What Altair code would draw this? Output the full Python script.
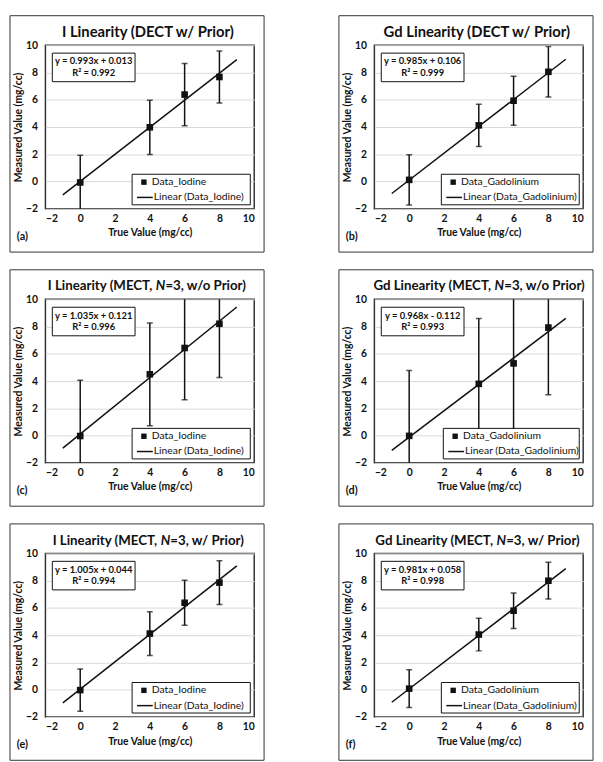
import altair as alt
import pandas as pd

# ---------------- data ----------------
TRUE_VALUES = [0, 4, 6, 8]
TICKS = [-2, 0, 2, 4, 6, 8, 10]

LETTERS = ["(a)", "(b)", "(c)", "(d)", "(e)", "(f)"]
TITLE_PRE = ["I Linearity (DECT w/ Prior)", "Gd Linearity (DECT w/ Prior)",
             "I Linearity (MECT,", "Gd Linearity (MECT,",
             "I Linearity (MECT,", "Gd Linearity (MECT,"]
TITLE_ITALIC = ["", "", "N", "N", "N", "N"]
TITLE_POST = ["", "", "=3, w/o Prior)", "=3, w/o Prior)", "=3, w/ Prior)", "=3, w/ Prior)"]
SERIES = ["Data_Iodine", "Data_Gadolinium", "Data_Iodine", "Data_Gadolinium",
          "Data_Iodine", "Data_Gadolinium"]

MEAS_A = [-0.07, 3.98, 6.38, 7.67]
ERR_A = [2.0, 1.99, 2.28, 1.9]
MEAS_B = [0.12, 4.12, 5.93, 8.05]
ERR_B = [1.85, 1.55, 1.8, 1.85]
MEAS_C = [-0.03, 4.5, 6.43, 8.21]
ERR_C = [4.1, 3.77, 3.8, 3.95]
MEAS_D = [-0.02, 3.8, 5.3, 7.93]
ERR_D = [4.8, 4.8, 5.0, 4.93]
MEAS_E = [-0.03, 4.12, 6.38, 7.86]
ERR_E = [1.55, 1.61, 1.65, 1.6]
MEAS_F = [0.08, 4.05, 5.8, 8.0]
ERR_F = [1.38, 1.2, 1.3, 1.35]

MEAS = [MEAS_A, MEAS_B, MEAS_C, MEAS_D, MEAS_E, MEAS_F]
ERRS = [ERR_A, ERR_B, ERR_C, ERR_D, ERR_E, ERR_F]

SLOPES = [0.993, 0.985, 1.035, 0.968, 1.005, 0.981]
INTERCEPTS = [0.013, 0.106, 0.121, -0.112, 0.044, 0.058]
EQUATIONS = ["y = 0.993x + 0.013", "y = 0.985x + 0.106", "y = 1.035x + 0.121",
             "y = 0.968x - 0.112", "y = 1.005x + 0.044", "y = 0.981x + 0.058"]
R2_TEXT = ["R² = 0.992", "R² = 0.999", "R² = 0.996", "R² = 0.993", "R² = 0.994", "R² = 0.998"]
TREND_X = [-1, 9]

# ---------------- layout / style ----------------
W, H = 212, 166
FONT = "Lato"
INK = "#111111"
LEGEND_LEFT = [88, 68, 88, 70, 88, 68]
N_ANCHOR = [0, 0, 112, 122, 117, 124]

xs = alt.Scale(domain=[-2, 10], nice=False, zero=False)
ys = alt.Scale(domain=[-2, 10], nice=False, zero=False)
x_axis = alt.Axis(values=TICKS, title="True Value (mg/cc)", grid=False)
y_axis = alt.Axis(values=TICKS, title="Measured Value (mg/cc)", grid=True)

one = pd.DataFrame({"k": [0]})


def X(f):
    return alt.X(f, type="quantitative", scale=xs, axis=x_axis)


def Y(f):
    return alt.Y(f, type="quantitative", scale=ys, axis=y_axis)


def txt(x, y, s, size, weight="bold", align="center", style="normal", baseline="middle"):
    return alt.Chart(one).mark_text(
        font=FONT, fontSize=size, fontWeight=weight, align=align, baseline=baseline,
        fontStyle=style, color=INK
    ).encode(x=alt.value(x), y=alt.value(y), text=alt.value(s))


def panel(i):
    df = pd.DataFrame({
        "x": TRUE_VALUES,
        "y": MEAS[i],
        "lo": [m - e for m, e in zip(MEAS[i], ERRS[i])],
        "hi": [m + e for m, e in zip(MEAS[i], ERRS[i])],
    })
    trend = pd.DataFrame({"x": TREND_X,
                          "y": [SLOPES[i] * t + INTERCEPTS[i] for t in TREND_X]})
    base = alt.Chart(df)
    bars = base.mark_rule(clip=True, color=INK, strokeWidth=1.5).encode(
        x=X("x"), y=Y("lo"), y2="hi:Q")
    cap_lo = base.mark_tick(clip=True, color=INK, orient="horizontal", size=6,
                            thickness=1.5).encode(x=X("x"), y=Y("lo"))
    cap_hi = base.mark_tick(clip=True, color=INK, orient="horizontal", size=6,
                            thickness=1.5).encode(x=X("x"), y=Y("hi"))
    line = alt.Chart(trend).mark_line(color=INK, strokeWidth=1.5).encode(
        x=X("x"), y=Y("y"))
    pts = base.mark_square(size=45, color=INK, opacity=1).encode(x=X("x"), y=Y("y"))

    # equation box
    eq_box = alt.Chart(one).mark_rect(fill="white", stroke=INK, strokeWidth=1).encode(
        x=alt.value(7), x2=alt.value(91), y=alt.value(8), y2=alt.value(37))
    eq1 = txt(49, 16.5, EQUATIONS[i], 9.5)
    eq2 = txt(49, 28.5, R2_TEXT[i], 9.5)

    # legend
    L = LEGEND_LEFT[i]
    R = W - 4
    leg_box = alt.Chart(one).mark_rect(fill="white", stroke=INK, strokeWidth=1).encode(
        x=alt.value(L), x2=alt.value(R), y=alt.value(131), y2=alt.value(162))
    leg_sq = alt.Chart(one).mark_square(size=30, color=INK, opacity=1).encode(
        x=alt.value(L + 12), y=alt.value(139))
    leg_ln = alt.Chart(one).mark_rule(color=INK, strokeWidth=1.5).encode(
        x=alt.value(L + 5), x2=alt.value(L + 21), y=alt.value(154.5))
    leg_t1 = txt(L + 20, 139, SERIES[i], 10.5, weight="normal", align="left")
    leg_t2 = txt(L + 22, 154.5, "Linear (" + SERIES[i] + ")", 10.5, weight="normal",
                 align="left")

    # title
    if TITLE_ITALIC[i]:
        a = N_ANCHOR[i]
        ts = 13.5
        titles = [txt(a - 3.5, -13, TITLE_PRE[i], ts, align="right"),
                  txt(a, -13, TITLE_ITALIC[i], ts, align="left", style="italic"),
                  txt(a + 9.8, -13, TITLE_POST[i], ts, align="left")]
    else:
        titles = [txt(104, -13, TITLE_PRE[i], 15)]

    letter = txt(-29, 195, LETTERS[i], 11, align="left")
    frame = alt.Chart(one).mark_rect(fillOpacity=0, stroke="#333333", strokeWidth=1).encode(
        x=alt.value(-36), x2=alt.value(W + 10), y=alt.value(-30), y2=alt.value(H + 44))

    return alt.layer(bars, cap_lo, cap_hi, line, pts, eq_box, eq1, eq2,
                     leg_box, leg_sq, leg_ln, leg_t1, leg_t2, *titles, letter, frame
                     ).properties(width=W, height=H)


rows = [alt.hconcat(panel(2 * r), panel(2 * r + 1), spacing=72) for r in range(3)]
chart = alt.vconcat(*rows, spacing=14).properties(
    padding={"left": 0, "top": 0, "right": 0, "bottom": 0}
).configure_view(
    stroke="#333333", strokeWidth=1.5
).configure_axis(
    domain=False, ticks=False,
    labelFont=FONT, labelFontWeight="bold", labelFontSize=10.5, labelColor=INK,
    titleFont=FONT, titleFontWeight="bold", titleFontSize=10.5, titleColor=INK,
    gridColor="#d9d9d9", gridWidth=1,
).configure_axisX(
    labelPadding=5, titlePadding=4
).configure_axisY(
    labelPadding=8, titlePadding=2
)

chart.save("out.html", embed_options={"renderer": "svg", "actions": False})
